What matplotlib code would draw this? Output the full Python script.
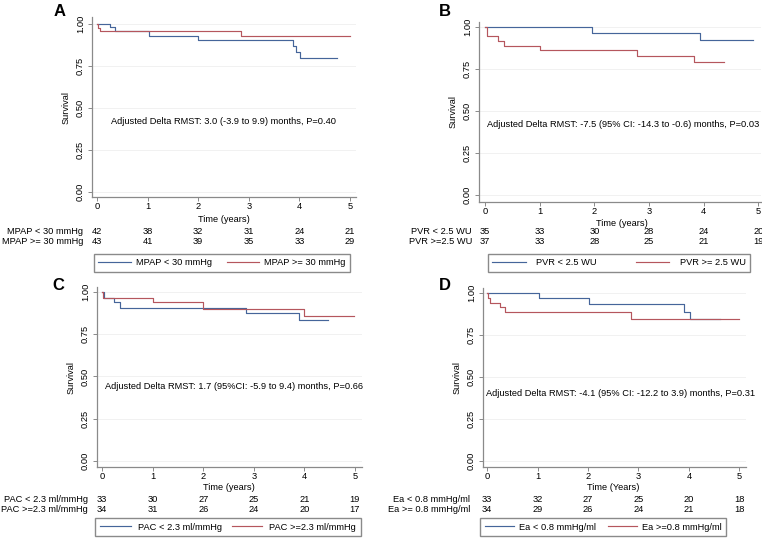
import numpy as np
import matplotlib
matplotlib.use("Agg")
import matplotlib.pyplot as plt
from matplotlib.transforms import blended_transform_factory
from matplotlib.lines import Line2D

plt.rcParams["font.family"] = ["Liberation Sans", "DejaVu Sans"]

BLUE = "#45659a"
RED = "#b5565d"
FS = 6.7

# ---- data ----
years = [0, 1, 2, 3, 4, 5]

# A: MPAP
a_lo_t = [0, 0.25, 0.35, 1.03, 2.0, 3.88, 3.93, 4.01, 4.75]
a_lo_s = [1.0, 0.978, 0.954, 0.928, 0.902, 0.866, 0.83, 0.796, 0.796]
a_hi_t = [0, 0.02, 0.05, 2.84, 5.0]
a_hi_s = [1.0, 0.976, 0.956, 0.93, 0.93]
a_risk_lo = [42, 38, 32, 31, 24, 21]
a_risk_hi = [43, 41, 39, 35, 33, 29]
a_labels = ["MPAP < 30 mmHg", "MPAP >= 30 mmHg"]
a_text = "Adjusted Delta RMST: 3.0 (-3.9 to 9.9) months, P=0.40"

# B: PVR
b_lo_t = [0, 1.96, 3.94, 4.9]
b_lo_s = [1.0, 0.964, 0.925, 0.925]
b_hi_t = [0, 0.03, 0.04, 0.24, 0.35, 1.0, 2.78, 3.82, 4.37]
b_hi_s = [1.0, 0.97, 0.946, 0.915, 0.889, 0.861, 0.829, 0.792, 0.792]
b_risk_lo = [35, 33, 30, 28, 24, 20]
b_risk_hi = [37, 33, 28, 25, 21, 19]
b_labels = ["PVR < 2.5 WU", "PVR >= 2.5 WU"]
b_risk_labels = ["PVR < 2.5 WU", "PVR >=2.5 WU"]
b_text = "Adjusted Delta RMST: -7.5 (95% CI: -14.3 to -0.6) months, P=0.03"

# C: PAC
c_lo_t = [0, 0.03, 0.24, 0.35, 2.84, 3.89, 4.46]
c_lo_s = [1.0, 0.967, 0.941, 0.908, 0.875, 0.834, 0.834]
c_hi_t = [0, 0.01, 1.01, 1.99, 3.99, 4.99]
c_hi_s = [1.0, 0.967, 0.94, 0.902, 0.859, 0.859]
c_risk_lo = [33, 30, 27, 25, 21, 19]
c_risk_hi = [34, 31, 26, 24, 20, 17]
c_labels = ["PAC < 2.3 ml/mmHg", "PAC >=2.3 ml/mmHg"]
c_text = "Adjusted Delta RMST: 1.7 (95%CI: -5.9 to 9.4) months, P=0.66"

# D: Ea
d_lo_t = [0, 1.03, 2.01, 3.9, 4.02, 4.62]
d_lo_s = [1.0, 0.969, 0.935, 0.888, 0.848, 0.848]
d_hi_t = [0, 0.02, 0.05, 0.26, 0.36, 2.85, 5.0]
d_hi_s = [1.0, 0.97, 0.943, 0.915, 0.886, 0.848, 0.848]
d_risk_lo = [33, 32, 27, 25, 20, 18]
d_risk_hi = [34, 29, 26, 24, 21, 18]
d_labels = ["Ea < 0.8 mmHg/ml", "Ea >=0.8 mmHg/ml"]
d_risk_labels = ["Ea < 0.8 mmHg/ml", "Ea >= 0.8 mmHg/ml"]
d_text = "Adjusted Delta RMST: -4.1 (95% CI: -12.2 to 3.9) months, P=0.31"

W, H = 762, 541
fig = plt.figure(figsize=(W / 100, H / 100), dpi=100)


def px(x0, y_top, x1, y_bot):
    return [x0 / W, 1 - y_bot / H, (x1 - x0) / W, (y_bot - y_top) / H]


def panel(rect, xlim, ylim, lo, hi, risk, risk_labels, leg_labels, text, text_xy,
          letter, letter_xy, xlabel, rows_y, xlab_y, risk_x, leg_center, leg_kw):
    ax = fig.add_axes(px(*rect))
    ax.step(lo[0], lo[1], where="post", color=BLUE, lw=0.85)
    ax.step(hi[0], hi[1], where="post", color=RED, lw=0.85)
    ax.set_xlim(*xlim)
    ax.set_ylim(*ylim)
    ax.set_xticks(years)
    ax.set_yticks([0, 0.25, 0.5, 0.75, 1.0])
    ax.set_yticklabels(["0.00", "0.25", "0.50", "0.75", "1.00"], rotation=90,
                       va="center")
    ax.yaxis.grid(True, color="#efefef", lw=0.6)
    ax.set_axisbelow(True)
    for s in ["top", "right"]:
        ax.spines[s].set_visible(False)
    for s in ["left", "bottom"]:
        ax.spines[s].set_color("#8a8a8a")
        ax.spines[s].set_linewidth(0.9)
    ax.tick_params(labelsize=FS, length=3, width=0.7, color="#8a8a8a", pad=2)
    ax.tick_params(axis="x", pad=0.8)
    ax.set_ylabel("Survival", fontsize=FS, labelpad=4)
    ax.text(text_xy[0], text_xy[1], text, fontsize=FS, ha="center", va="center")

    # x label and numbers at risk under the axis
    tr = blended_transform_factory(ax.transData, fig.transFigure)
    ax.text(2.5, 1 - xlab_y / H, xlabel, transform=tr, fontsize=FS,
            ha="center", va="center")
    for r, (vals, lab) in enumerate(zip(risk, risk_labels)):
        yy = 1 - rows_y[r] / H
        ax.text(risk_x, yy, lab, transform=tr, fontsize=FS, ha="right", va="center")
        for t, v in zip(years, vals):
            ax.text(t, yy, str(v), transform=tr, fontsize=FS, ha="center",
                    va="center")

    handles = [Line2D([], [], color=BLUE, lw=0.85), Line2D([], [], color=RED, lw=0.85)]
    fig.legend(handles, leg_labels, loc="center", ncol=2,
               bbox_to_anchor=(leg_center[0] / W, 1 - leg_center[1] / H),
               fontsize=FS, frameon=True, fancybox=False, edgecolor="#8a8a8a",
               framealpha=1, borderpad=0.5, borderaxespad=0, **leg_kw)
    fig.text(letter_xy[0] / W, 1 - letter_xy[1] / H, letter, fontsize=12,
             fontweight="bold", ha="center", va="center")
    return ax


panel((92, 17, 356, 197), (-0.1, 5.12), (-0.03, 1.04),
      (a_lo_t, a_lo_s), (a_hi_t, a_hi_s), (a_risk_lo, a_risk_hi), a_labels,
      a_labels, a_text, (2.5, 0.42), "A", (60, 11), "Time (years)",
      (231, 241), 219, -0.28, (222, 263),
      dict(handlelength=3.5, handletextpad=0.55, columnspacing=1.6))

panel((479, 22, 761, 202), (-0.11, 5.05), (-0.042, 1.03),
      (b_lo_t, b_lo_s), (b_hi_t, b_hi_s), (b_risk_lo, b_risk_hi), b_risk_labels,
      b_labels, b_text, (2.53, 0.42), "B", (445, 11), "Time (years)",
      (232, 241), 223, -0.24, (619, 263),
      dict(handlelength=3.6, handletextpad=1.1, columnspacing=4.2))

panel((97, 287, 362, 467), (-0.1, 5.14), (-0.036, 1.03),
      (c_lo_t, c_lo_s), (c_hi_t, c_hi_s), (c_risk_lo, c_risk_hi), c_labels,
      c_labels, c_text, (2.6, 0.44), "C", (58, 286), "Time (years)",
      (499, 509), 487, -0.28, (228, 527),
      dict(handlelength=3.3, handletextpad=0.75, columnspacing=1.1))

panel((483, 288, 746, 467), (-0.08, 5.13), (-0.036, 1.03),
      (d_lo_t, d_lo_s), (d_hi_t, d_hi_s), (d_risk_lo, d_risk_hi), d_risk_labels,
      d_labels, d_text, (2.64, 0.40), "D", (445, 286), "Time (Years)",
      (499, 509), 487, -0.34, (603, 527),
      dict(handlelength=3.2, handletextpad=0.45, columnspacing=1.3))

fig.savefig("out.png", dpi=100)
